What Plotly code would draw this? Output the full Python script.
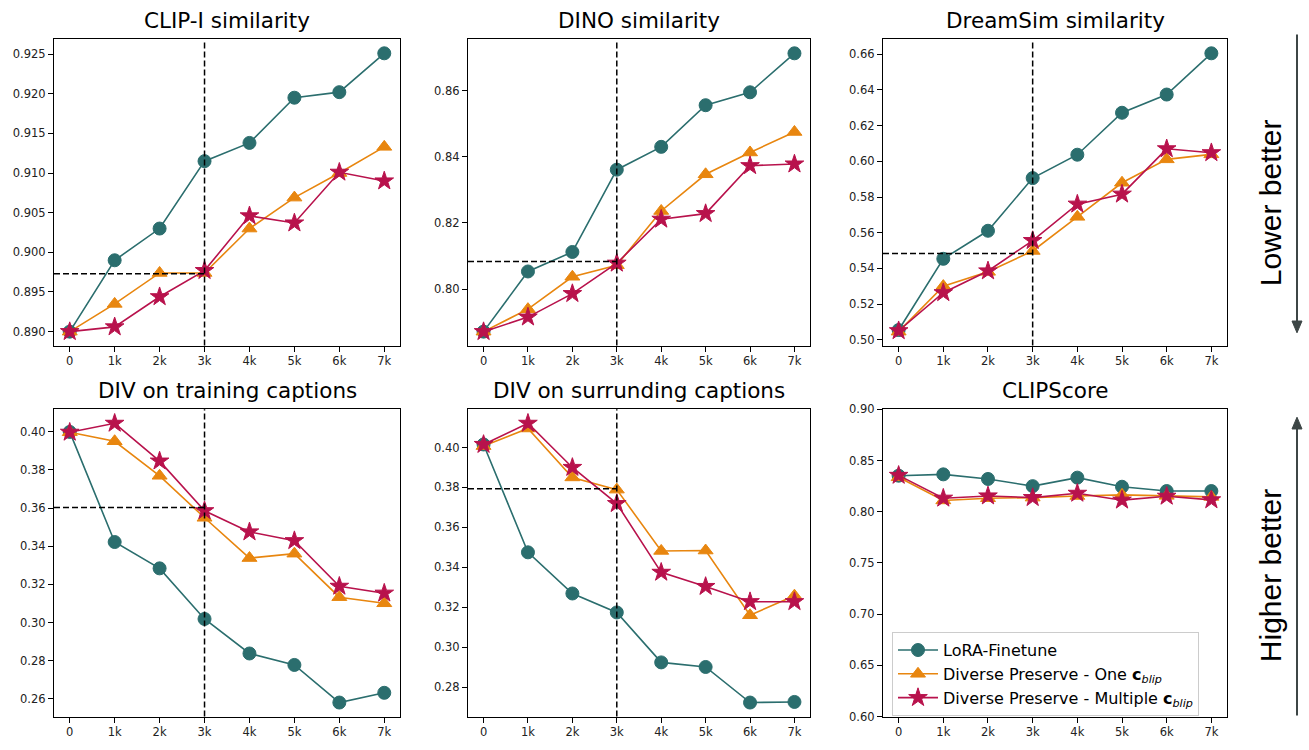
import plotly.graph_objects as go

W, H = 1309, 750

steps = [0, 1, 2, 3, 4, 5, 6, 7]
step_labels = ["0", "1k", "2k", "3k", "4k", "5k", "6k", "7k"]

titles = ["CLIP-I similarity", "DINO similarity", "DreamSim similarity",
          "DIV on training captions", "DIV on surrunding captions", "CLIPScore"]

# LoRA-Finetune
lora_clipi = [0.8900, 0.8990, 0.9030, 0.9115, 0.9138, 0.9195, 0.9202, 0.9251]
lora_dino = [0.7871, 0.8053, 0.8112, 0.8361, 0.8430, 0.8556, 0.8595, 0.8713]
lora_dreamsim = [0.5055, 0.5454, 0.5611, 0.5906, 0.6037, 0.6272, 0.6374, 0.6605]
lora_div_train = [0.3999, 0.3422, 0.3284, 0.3019, 0.2838, 0.2778, 0.2581, 0.2632]
lora_div_sur = [0.4015, 0.3475, 0.3269, 0.3174, 0.2924, 0.2901, 0.2723, 0.2726]
lora_clipscore = [0.8352, 0.8365, 0.8320, 0.8250, 0.8333, 0.8244, 0.8202, 0.8202]

# Diverse Preserve - One c_blip
one_clipi = [0.8900, 0.8935, 0.8974, 0.8974, 0.9030, 0.9069, 0.9100, 0.9133]
one_dino = [0.7871, 0.7939, 0.8037, 0.8072, 0.8236, 0.8347, 0.8413, 0.8475]
one_dreamsim = [0.5046, 0.5301, 0.5381, 0.5498, 0.5689, 0.5880, 0.6011, 0.6039]
one_div_train = [0.3997, 0.3950, 0.3769, 0.3549, 0.3338, 0.3361, 0.3133, 0.3101]
one_div_sur = [0.4007, 0.4095, 0.3850, 0.3789, 0.3482, 0.3484, 0.3160, 0.3258]
one_clipscore = [0.8336, 0.8110, 0.8132, 0.8138, 0.8154, 0.8165, 0.8155, 0.8145]

# Diverse Preserve - Multiple c_blip
multi_clipi = [0.8900, 0.8906, 0.8944, 0.8977, 0.9046, 0.9037, 0.9101, 0.9090]
multi_dino = [0.7871, 0.7915, 0.7986, 0.8078, 0.8211, 0.8228, 0.8373, 0.8378]
multi_dreamsim = [0.5051, 0.5264, 0.5386, 0.5556, 0.5760, 0.5816, 0.6070, 0.6048]
multi_div_train = [0.3997, 0.4044, 0.3846, 0.3586, 0.3475, 0.3429, 0.3190, 0.3154]
multi_div_sur = [0.4015, 0.4121, 0.3900, 0.3719, 0.3375, 0.3304, 0.3228, 0.3228]
multi_clipscore = [0.8355, 0.8132, 0.8154, 0.8138, 0.8180, 0.8113, 0.8151, 0.8116]

# reference (dashed) levels at 3k
ref_step = 3
ref_levels = [0.8973, 0.8083, 0.5483, 0.3603, 0.3794, None]

ytick_vals = [
    [0.890, 0.895, 0.900, 0.905, 0.910, 0.915, 0.920, 0.925],
    [0.80, 0.82, 0.84, 0.86],
    [0.50, 0.52, 0.54, 0.56, 0.58, 0.60, 0.62, 0.64, 0.66],
    [0.26, 0.28, 0.30, 0.32, 0.34, 0.36, 0.38, 0.40],
    [0.28, 0.30, 0.32, 0.34, 0.36, 0.38, 0.40],
    [0.60, 0.65, 0.70, 0.75, 0.80, 0.85, 0.90],
]
ytick_fmt = [".3f", ".2f", ".2f", ".2f", ".2f", ".2f"]

series_names = ["LoRA-Finetune",
                "Diverse Preserve - One <b>c</b><sub><i>blip</i></sub>",
                "Diverse Preserve - Multiple <b>c</b><sub><i>blip</i></sub>"]
colors = ["#2b6e6e", "#e8860f", "#b8124c"]
symbols = ["circle", "triangle-up", "star"]
msizes = [13, 13, 14]

panel_data = [
    [lora_clipi, one_clipi, multi_clipi],
    [lora_dino, one_dino, multi_dino],
    [lora_dreamsim, one_dreamsim, multi_dreamsim],
    [lora_div_train, one_div_train, multi_div_train],
    [lora_div_sur, one_div_sur, multi_div_sur],
    [lora_clipscore, one_clipscore, multi_clipscore],
]

# panel pixel boxes (left, right, top, bottom)
boxes = [
    (54, 400, 33, 345), (468, 810, 33, 345), (883, 1227, 33, 345),
    (54, 400, 410, 723), (468, 810, 410, 723), (883, 1227, 410, 723),
]

fig = go.Figure()
shapes = []
annotations = []
xr = [-0.35, 7.35]
tickfont = dict(family="DejaVu Sans", size=11.5, color="#222")

for i in range(6):
    n = i + 1
    xa = "x" if n == 1 else f"x{n}"
    ya = "y" if n == 1 else f"y{n}"
    data = panel_data[i]
    for s in range(3):
        fig.add_trace(go.Scatter(
            x=steps, y=data[s], mode="lines+markers",
            name=series_names[s], legendgroup=str(s), showlegend=(i == 5),
            line=dict(color=colors[s], width=1.6),
            marker=dict(symbol=symbols[s], size=msizes[s], color=colors[s],
                        line=dict(color=colors[s], width=1)),
            xaxis=xa, yaxis=ya,
        ))
    if i == 5:
        yr = [0.60, 0.90]
    else:
        allv = data[0] + data[1] + data[2]
        lo, hi = min(allv), max(allv)
        m = (hi - lo) * 0.05
        yr = [lo - m, hi + m]
    l, r, t, b = boxes[i]
    fig.layout[f"xaxis{'' if n == 1 else n}"] = dict(
        domain=[l / W, r / W], anchor=ya, range=xr,
        tickvals=steps, ticktext=step_labels, ticks="outside", ticklen=5,
        tickcolor="#000", showline=True, linecolor="#000", linewidth=1.2,
        mirror=True, showgrid=False, zeroline=False, tickfont=tickfont,
    )
    fig.layout[f"yaxis{'' if n == 1 else n}"] = dict(
        domain=[1 - b / H, 1 - t / H], anchor=xa, range=yr,
        tickvals=ytick_vals[i], tickformat=ytick_fmt[i], ticks="outside", ticklen=5,
        tickcolor="#000", showline=True, linecolor="#000", linewidth=1.2,
        mirror=True, showgrid=False, zeroline=False, tickfont=tickfont,
    )
    annotations.append(dict(
        text=titles[i], x=(l + r) / 2 / W, y=1 - (t - 19) / H, xref="paper", yref="paper",
        xanchor="center", yanchor="middle", showarrow=False,
        font=dict(family="DejaVu Sans", size=21.5, color="#000"),
    ))
    if ref_levels[i] is not None:
        shapes.append(dict(type="line", xref=xa, yref=f"{ya} domain",
                           x0=ref_step, x1=ref_step, y0=0, y1=1, layer="above",
                           line=dict(color="#000", width=1.5, dash="6px,3px")))
        shapes.append(dict(type="line", xref=xa, yref=ya,
                           x0=xr[0], x1=ref_step, y0=ref_levels[i], y1=ref_levels[i],
                           layer="above",
                           line=dict(color="#000", width=1.5, dash="6px,3px")))

# side arrows (paper coordinates) and labels
arrow_color = "#3d4646"
ax_px = 1297


def px(xp, yp):
    return xp / W, 1 - yp / H


# Lower better: down arrow
x0, y0 = px(ax_px, 28)
x1, y1 = px(ax_px, 322)
shapes.append(dict(type="line", xref="paper", yref="paper", x0=x0, y0=y0, x1=x1, y1=y1,
                   line=dict(color=arrow_color, width=2)))
a, b_ = px(ax_px - 5, 320)
c, d = px(ax_px + 5, 320)
e, f = px(ax_px, 332)
shapes.append(dict(type="path", xref="paper", yref="paper",
                   path=f"M {a} {b_} L {c} {d} L {e} {f} Z",
                   fillcolor=arrow_color, line=dict(color=arrow_color, width=1)))
# Higher better: up arrow
x0, y0 = px(ax_px, 722)
x1, y1 = px(ax_px, 428)
shapes.append(dict(type="line", xref="paper", yref="paper", x0=x0, y0=y0, x1=x1, y1=y1,
                   line=dict(color=arrow_color, width=2)))
a, b_ = px(ax_px - 5, 430)
c, d = px(ax_px + 5, 430)
e, f = px(ax_px, 418)
shapes.append(dict(type="path", xref="paper", yref="paper",
                   path=f"M {a} {b_} L {c} {d} L {e} {f} Z",
                   fillcolor=arrow_color, line=dict(color=arrow_color, width=1)))

annotations.append(dict(text="Lower better", x=1270 / W, y=1 - 200 / H, xref="paper",
                        yref="paper", textangle=-90, showarrow=False,
                        xanchor="center", yanchor="middle",
                        font=dict(family="Liberation Sans", size=30, color="#000")))
annotations.append(dict(text="Higher better", x=1270 / W, y=1 - 580 / H, xref="paper",
                        yref="paper", textangle=-90, showarrow=False,
                        xanchor="center", yanchor="middle",
                        font=dict(family="Liberation Sans", size=30, color="#000")))

fig.update_layout(
    width=W, height=H, margin=dict(l=0, r=0, t=0, b=0),
    paper_bgcolor="white", plot_bgcolor="white",
    shapes=shapes, annotations=annotations,
    showlegend=True,
    legend=dict(x=892 / W, y=1 - 637 / H, xanchor="left", yanchor="top",
                bgcolor="rgba(255,255,255,0.8)", bordercolor="#cccccc", borderwidth=1,
                font=dict(family="DejaVu Sans", size=16, color="#000"),
                itemwidth=40, tracegroupgap=0),
)

fig.write_html("out.html", config={"displayModeBar": False},
               post_script="document.body.style.margin='0';document.body.style.padding='0';"
                           "document.body.style.overflow='hidden';")
